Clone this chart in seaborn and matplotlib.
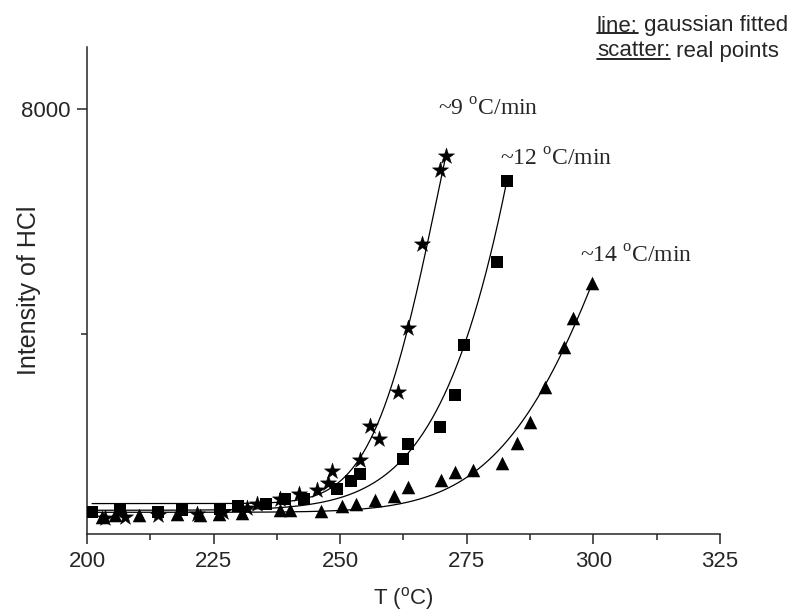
import numpy as np
import pandas as pd
import seaborn as sns
import matplotlib
matplotlib.use("Agg")
import matplotlib.pyplot as plt
from matplotlib.ticker import MultipleLocator, AutoMinorLocator
from matplotlib.lines import Line2D

# pontos medidos (T em °C, intensidade de HCl)
star_T = [203.6, 207.5, 214.1, 221.7, 226.9, 231.5, 233.5, 238.1, 241.9, 245.5,
          247.5, 248.4, 254.0, 255.9, 257.7, 261.5, 263.4, 266.1, 269.8, 270.9]
star_I = [741, 752, 782, 812, 841, 912, 978, 1079, 1156, 1239,
          1364, 1570, 1760, 2370, 2133, 2964, 4101, 5595, 6916, 7164]

sq_T = [201.0, 206.5, 214.1, 218.7, 226.3, 229.9, 235.3, 239.1, 242.9, 249.4,
        252.1, 254.0, 262.5, 263.3, 269.8, 272.7, 274.5, 281.0, 282.9]
sq_I = [841, 871, 841, 871, 901, 942, 978, 1079, 1067, 1244,
        1392, 1511, 1790, 2044, 2352, 2916, 3804, 5285, 6720]

tri_T = [202.9, 205.5, 210.3, 217.7, 222.3, 226.1, 230.7, 238.1, 240.1, 246.2,
         250.3, 253.1, 256.9, 260.6, 263.3, 269.9, 272.7, 276.3, 282.0, 284.9,
         287.5, 290.4, 294.2, 296.0, 299.7]
tri_I = [752, 782, 782, 800, 795, 812, 823, 884, 884, 850,
         942, 990, 1049, 1125, 1285, 1417, 1552, 1582, 1719, 2071,
         2444, 3063, 3774, 4279, 4901]

# parâmetros do ajuste gaussiano: y0, A, xc, w, T inicial, T final
fit_star = [990, 9150, 282.3, 12.9, 201, 270.9]
fit_sq = [871, 47300, 337.7, 26.8, 201, 282.9]
fit_tri = [835, 10300, 333.3, 24.6, 201, 299.7]

rate_labels = ['~9 $^{\\mathrm{o}}$C/min', '~12 $^{\\mathrm{o}}$C/min', '~14 $^{\\mathrm{o}}$C/min']

sns.set_style('ticks')
plt.rcParams['font.family'] = ['Liberation Sans', 'DejaVu Sans']
plt.rcParams['mathtext.fontset'] = 'custom'
plt.rcParams['mathtext.rm'] = 'Liberation Serif'
plt.rcParams['mathtext.sf'] = 'Liberation Sans'

fig = plt.figure(figsize=(7.99, 6.13), dpi=100)
ax = fig.add_axes([0.1089, 0.1289, 0.7922, 0.7945])


def gauss_curve(p):
    y0, A, xc, w, t0, t1 = p
    t = np.linspace(t0, t1, 300)
    return pd.DataFrame({'T': t, 'I': y0 + A * np.exp(-(t - xc) ** 2 / (2 * w ** 2))})


for p in [fit_star, fit_sq, fit_tri]:
    sns.lineplot(data=gauss_curve(p), x='T', y='I', color='black', lw=0.9, ax=ax)

sns.scatterplot(x=star_T, y=star_I, marker='*', s=150, color='black', edgecolor='black', linewidth=0.3, ax=ax, zorder=3)
sns.scatterplot(x=sq_T, y=sq_I, marker='s', s=70, color='black', edgecolor='black', linewidth=0, ax=ax, zorder=3)
sns.scatterplot(x=tri_T, y=tri_I, marker='^', s=95, color='black', edgecolor='black', linewidth=0, ax=ax, zorder=3)

ax.set_xlim(200, 325)
ax.set_ylim(450, 9100)
ax.xaxis.set_major_locator(MultipleLocator(25))
ax.xaxis.set_minor_locator(AutoMinorLocator(2))
ax.yaxis.set_major_locator(MultipleLocator(8000))
ax.yaxis.set_minor_locator(AutoMinorLocator(2))
ax.tick_params(which='major', length=7, width=1.1, labelsize=16, direction='out', pad=5)
ax.tick_params(which='minor', length=4, width=1.1, direction='out')
for s in ['top', 'right']:
    ax.spines[s].set_visible(False)
for s in ['left', 'bottom']:
    ax.spines[s].set_linewidth(1.1)

ax.set_xlabel('T ($^{\\mathsf{o}}$C)', fontsize=16)
ax.set_ylabel('Intensity of HCl', fontsize=18)
ax.xaxis.set_label_coords(0.5, -0.105)
ax.yaxis.set_label_coords(-0.072, 0.5)

# rótulos das taxas de aquecimento
ax.text(269.3, 7982, rate_labels[0], fontsize=17, ha='left', va='center', family='Liberation Serif')
ax.text(281.6, 7093, rate_labels[1], fontsize=17, ha='left', va='center', family='Liberation Serif')
ax.text(297.4, 5369, rate_labels[2], fontsize=17, ha='left', va='center', family='Liberation Serif')

# legenda em texto com sublinhado
x0 = 597 / 799
leg = [('line:', ' gaussian fitted', 1 - 26 / 613), ('scatter:', ' real points', 1 - 51 / 613)]
fig.canvas.draw()
rend = fig.canvas.get_renderer()
for head, tail, yy in leg:
    t1 = fig.text(x0, yy, head, fontsize=16, ha='left', va='center')
    bb = t1.get_window_extent(rend).transformed(fig.transFigure.inverted())
    fig.text(bb.x1, yy, tail, fontsize=16, ha='left', va='center')
    uy = bb.y0 + 3 / 613
    fig.add_artist(Line2D([bb.x0, bb.x1], [uy, uy], transform=fig.transFigure, color='black', lw=1.2))

fig.savefig('out.png', dpi=100)
